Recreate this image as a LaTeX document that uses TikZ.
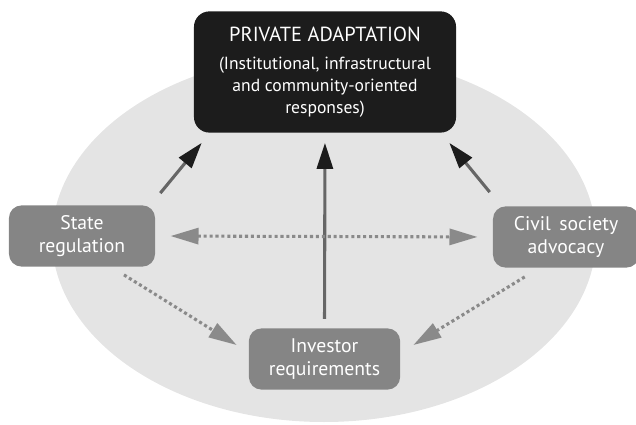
\documentclass[tikz,border=0pt]{standalone}
\usepackage{fontspec}
\setmainfont{PT Sans}
\usetikzlibrary{arrows.meta,calc}
\definecolor{ringgray}{HTML}{E4E4E4}
\definecolor{boxgray}{HTML}{858585}
\definecolor{topblack}{HTML}{1C1C1C}
\definecolor{shaftgray}{HTML}{666666}
\definecolor{dotgray}{HTML}{8A8A8A}
\tikzset{
  actor/.style={rounded corners=9pt, fill=boxgray, text=white, align=center,
    inner sep=0pt, minimum width=3.65cm, minimum height=1.53cm,
    font=\fontsize{14}{16.5}\selectfont},
  push/.style={line width=2.2pt, shaftgray,
    -{Triangle[length=0.65cm, width=0.4cm, color=topblack]}},
  link/.style={line width=2.2pt, dotgray, dash pattern=on 2.2pt off 2pt,
    -{Triangle[length=0.7cm, width=0.4cm]}},
}
\begin{document}
\begin{tikzpicture}[x=0.025cm, y=-0.025cm]
    \useasboundingbox (0,0) rectangle (636,425);
    \fill[ringgray] (324,238) ellipse [x radius=272, y radius=184];
    \node (A0_1) [rounded corners=11pt, fill=topblack, text=white, align=center,
      inner sep=0pt, minimum width=6.55cm, minimum height=3.03cm,
      font=\fontsize{12.5}{15.5}\selectfont] at (325,72)
      {{\fontsize{14.5}{17}\selectfont PRIVATE ADAPTATION}\\[5pt]
       (Institutional, infrastructural\\
       and community-oriented\\ responses)};
    \node (A1_0) [actor] at (82,236) {State\\ regulation};
    \node (A1_2) [actor] at (566,237) {Civil\, society\\ advocacy};
    \node (A2_1) [actor, minimum width=3.78cm] at (324.5,359) {Investor\\ requirements};
    % solid pushes into private adaptation
    \path ($(A1_0.north east)+(5,-12)$) edge [push] ($(A0_1.south west)+(8,10)$);
    \path (A2_1.north) edge [push, shorten <=0.23cm, shorten >=0.25cm] (A0_1.south);
    \path ($(A1_2.north west)+(-3,-14)$) edge [push] ($(A0_1.south east)+(-7,10)$);
    % dotted links between the three actors
    \path (A1_0.east) edge [link, shorten >=0.38cm, shorten <=0.38cm,
      {Triangle[length=0.7cm, width=0.4cm]}-{Triangle[length=0.7cm, width=0.4cm]}] (A1_2.west);
    \path ($(A1_0.south)+(42,8)$) edge [link] ($(A2_1.west)+(-12,-14)$);
    \path ($(A1_2.south west)+(32,9)$) edge [link] ($(A2_1.east)+(13,-14)$);
  \end{tikzpicture}
\end{document}
